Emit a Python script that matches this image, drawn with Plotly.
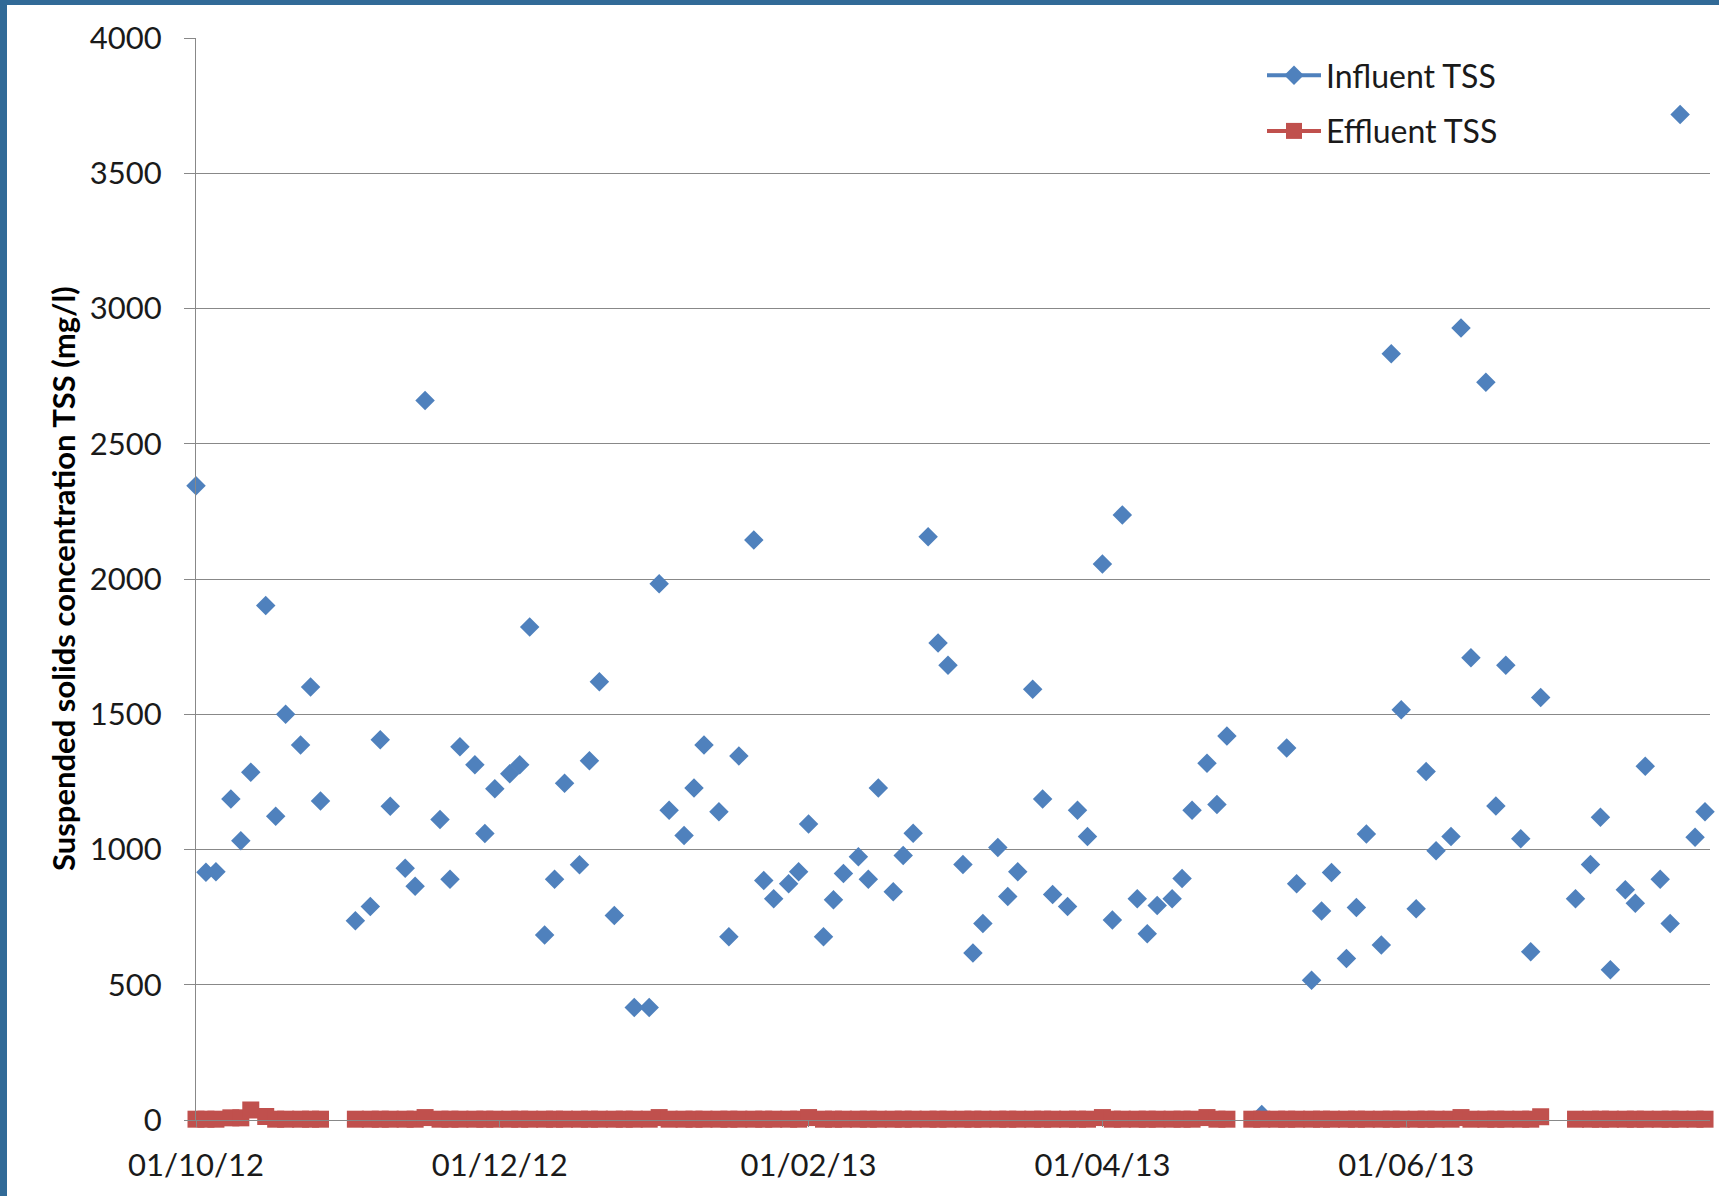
import plotly.graph_objects as go

# Sampling dates (Mon/Wed/Fri)
dates = [
    "2012-10-01", "2012-10-03", "2012-10-05", "2012-10-08", "2012-10-10", "2012-10-12",
    "2012-10-15", "2012-10-17", "2012-10-19", "2012-10-22", "2012-10-24", "2012-10-26",
    "2012-10-29", "2012-10-31", "2012-11-02", "2012-11-05", "2012-11-07", "2012-11-09",
    "2012-11-12", "2012-11-14", "2012-11-16", "2012-11-19", "2012-11-21", "2012-11-23",
    "2012-11-26", "2012-11-28", "2012-11-30", "2012-12-03", "2012-12-05", "2012-12-07",
    "2012-12-10", "2012-12-12", "2012-12-14", "2012-12-17", "2012-12-19", "2012-12-21",
    "2012-12-24", "2012-12-26", "2012-12-28", "2012-12-31", "2013-01-02", "2013-01-04",
    "2013-01-07", "2013-01-09", "2013-01-11", "2013-01-14", "2013-01-16", "2013-01-18",
    "2013-01-21", "2013-01-23", "2013-01-25", "2013-01-28", "2013-01-30", "2013-02-01",
    "2013-02-04", "2013-02-06", "2013-02-08", "2013-02-11", "2013-02-13", "2013-02-15",
    "2013-02-18", "2013-02-20", "2013-02-22", "2013-02-25", "2013-02-27", "2013-03-01",
    "2013-03-04", "2013-03-06", "2013-03-08", "2013-03-11", "2013-03-13", "2013-03-15",
    "2013-03-18", "2013-03-20", "2013-03-22", "2013-03-25", "2013-03-27", "2013-03-29",
    "2013-04-01", "2013-04-03", "2013-04-05", "2013-04-08", "2013-04-10", "2013-04-12",
    "2013-04-15", "2013-04-17", "2013-04-19", "2013-04-22", "2013-04-24", "2013-04-26",
    "2013-04-29", "2013-05-01", "2013-05-03", "2013-05-06", "2013-05-08", "2013-05-10",
    "2013-05-13", "2013-05-15", "2013-05-17", "2013-05-20", "2013-05-22", "2013-05-24",
    "2013-05-27", "2013-05-29", "2013-05-31", "2013-06-03", "2013-06-05", "2013-06-07",
    "2013-06-10", "2013-06-12", "2013-06-14", "2013-06-17", "2013-06-19", "2013-06-21",
    "2013-06-24", "2013-06-26", "2013-06-28", "2013-07-01", "2013-07-03", "2013-07-05",
    "2013-07-08", "2013-07-10", "2013-07-12", "2013-07-15", "2013-07-17", "2013-07-19",
    "2013-07-22", "2013-07-24", "2013-07-26", "2013-07-29", "2013-07-31",
]

influent_tss = [
    2345, 916, 918, 1187, 1032, 1286,
    1902, 1123, 1500, 1386, 1601, 1179,
    None, None, 737, 789, 1406, 1160,
    931, 864, 2660, 1111, 890, 1380,
    1313, 1059, 1225, 1280, 1313, 1823,
    684, 890, 1245, 944, 1328, 1620,
    756, None, 416, 416, 1982, 1145,
    1052, 1227, 1386, 1140, 677, 1346,
    2144, 885, 818, 873, 918, 1094,
    677, 814, 911, 973, 890, 1227,
    844, 978, 1060, 2156, 1763, 1681,
    945, 617, 726, 1007, 826, 918,
    1592, 1187, 834, 789, 1145, 1048,
    2055, 739, 2237, 818, 689, 793,
    818, 893, 1145, 1319, 1166, 1420,
    None, None, 20, None, 1375, 873,
    517, 773, 915, 597, 786, 1057,
    647, 2833, 1517, 781, 1288, 995,
    1048, 2928, 1709, 2727, 1161, 1681,
    1040, 622, 1562, None, None, 818,
    945, 1119, 555, 851, 801, 1308,
    890, 726, 3717, 1045, 1140,
]

effluent_tss = [
    3, 3, 3, 8, 8, 37,
    13, 3, 3, 3, 3, 3,
    None, None, 3, 3, 3, 3,
    3, 3, 9, 3, 3, 3,
    3, 3, 3, 3, 3, 3,
    3, 3, 3, 3, 3, 3,
    3, 3, 3, 3, 9, 3,
    3, 3, 3, 3, 3, 3,
    3, 3, 3, 3, 3, 9,
    3, 3, 3, 3, 3, 3,
    3, 3, 3, 3, 3, 3,
    3, 3, 3, 3, 3, 3,
    3, 3, 3, 3, 3, 3,
    9, 3, 3, 3, 3, 3,
    3, 3, 3, 9, 3, 3,
    None, 3, 3, 3, 3, 3,
    3, 3, 3, 3, 3, 3,
    3, 3, 3, 3, 3, 3,
    3, 9, 3, 3, 3, 3,
    3, 3, 12, None, None, 3,
    3, 3, 3, 3, 3, 3,
    3, 3, 3, 3, 3,
]

tick_dates = ["2012-10-01", "2012-12-01", "2013-02-01", "2013-04-01", "2013-06-01"]

BLUE = "#4F81BD"
RED = "#C0504D"
GRID = "#888888"
FONT = "Lato"

fig = go.Figure()

fig.add_trace(go.Scatter(
    x=dates, y=influent_tss, mode="markers",
    marker=dict(symbol="diamond", size=15, color=BLUE),
    showlegend=False, cliponaxis=False, name="Influent TSS",
))
fig.add_trace(go.Scatter(
    x=[None], y=[None], mode="lines+markers", name="Influent TSS",
    line=dict(color=BLUE, width=4),
    marker=dict(symbol="diamond", size=15, color=BLUE),
    legendgroup="a",
))
fig.add_trace(go.Scatter(
    x=dates, y=effluent_tss, mode="lines+markers", name="Effluent TSS",
    line=dict(color=RED, width=4),
    marker=dict(symbol="square", size=17, color=RED),
    connectgaps=False, cliponaxis=False, legendgroup="b",
))

W, H = 1719, 1196
L, R, T, B = 196, 9, 38, 76
pw = W - L - R
ph = H - T - B

def px(xp):
    return (xp - L) / pw

def py(yp):
    return (H - B - yp) / ph

shapes = [
    dict(type="rect", xref="paper", yref="paper", x0=px(0), x1=px(7), y0=py(H), y1=py(0),
         fillcolor="#316A97", line=dict(width=0), layer="above"),
    dict(type="rect", xref="paper", yref="paper", x0=px(0), x1=px(W), y0=py(5), y1=py(0),
         fillcolor="#316A97", line=dict(width=0), layer="above"),
]

fig.update_layout(
    width=W, height=H,
    margin=dict(l=L, r=R, t=T, b=B),
    paper_bgcolor="white", plot_bgcolor="white",
    font=dict(family=FONT, size=31, color="#1a1a1a"),
    shapes=shapes,
    showlegend=True,
    legend=dict(
        x=px(1262), y=py(48), xanchor="left", yanchor="top",
        bgcolor="rgba(0,0,0,0)", font=dict(family=FONT, size=32, color="#1a1a1a"),
        traceorder="grouped", tracegroupgap=11, itemwidth=54,
    ),
    annotations=[dict(
        text="<b>Suspended solids concentration TSS (mg/l)</b>",
        xref="paper", yref="paper", x=px(63), y=0.5, textangle=-90,
        showarrow=False, xanchor="center", yanchor="middle",
        font=dict(family=FONT, size=31, color="#000000"),
    )],
    xaxis=dict(
        type="date", range=["2012-10-01", "2013-08-01"],
        tickvals=tick_dates, tickformat="%d/%m/%y",
        showgrid=False, showline=True, linecolor=GRID, linewidth=1.3,
        ticks="outside", ticklen=6, tickcolor=GRID, ticklabelstandoff=12,
        zeroline=False,
    ),
    yaxis=dict(
        range=[0, 4000], dtick=500, tick0=0,
        showgrid=True, gridcolor=GRID, gridwidth=1.3,
        showline=True, linecolor=GRID, linewidth=1.3,
        ticks="outside", ticklen=11, tickcolor=GRID, ticklabelstandoff=16,
        zeroline=False,
    ),
)

fig.write_html(
    "out.html",
    config={"displayModeBar": False},
    post_script="document.body.style.margin='0px';",
)
